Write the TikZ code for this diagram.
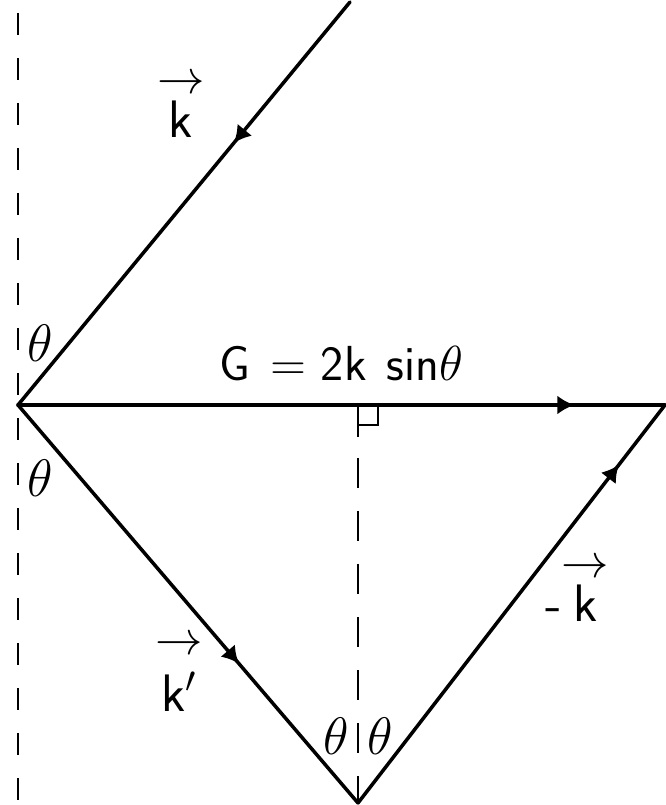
\documentclass[tikz,border=0pt]{standalone}
\usepackage{fix-cm}
\usepackage{amsmath}
\usepackage{tikz}
\usetikzlibrary{arrows.meta, decorations.markings, positioning, calc}

\newcommand{\vecarrow}{{\fontsize{27}{27}\selectfont$\rightarrow$}}
\newcommand{\kvec}[2][1pt]{\shortstack{\vecarrow\\[#1]\textsf{#2}}}

\begin{document}
\begin{tikzpicture}[
  ray/.style={line width=2pt, line cap=round},
  guide/.style={line width=1.6pt, dash pattern=on 0.44cm off 0.46cm},
  drop/.style={line width=1.6pt, dash pattern=on 0.6cm off 0.46cm},
  mid/.style={postaction={decorate}, decoration={markings,
      mark=at position #1 with {\arrow{Latex[length=0.34cm, width=0.38cm]}}}},
  lbl/.style={font=\fontsize{28}{33}\selectfont, inner sep=1pt},
  vlbl/.style={font=\fontsize{30}{36}\selectfont, inner sep=1pt},
  ang/.style={font=\fontsize{30}{36}\selectfont, inner sep=1pt}
]
\useasboundingbox (0,0) rectangle (13.3,16.1);

% points of the construction
\coordinate (orig)  at (0.36,8.0);
\coordinate (top)   at (7.0,16.06);
\coordinate (right) at (13.3,8.0);
\coordinate (apex)  at (7.16,0.04);
\coordinate (foot)  at (7.16,8.0);
\coordinate (gtop)  at (0.36,15.84);
\coordinate (gbot)  at (0.36,0);
\coordinate (dtop)  at (7.16,6.94);

% dashed guides
\draw[guide] (gtop) -- (gbot);
\draw[drop] (dtop) -- (apex);
\draw[line width=1.6pt] (foot) -- ++(0,-0.64);
\draw[line width=1.6pt] ($(foot)+(0,-0.4)$) -- ++(0.4,0) -- ++(0,0.4);

% wave vectors
\draw[ray, mid=0.35] (top) -- (orig);
\draw[ray, mid=0.65] (orig) -- (apex);
\draw[ray, mid=0.85] (apex) -- (right);
\draw[ray, mid=0.86] (orig) -- (right)
  node[lbl, midway, above=0.42cm] (gval)
  {\textsf{G\hspace{0.4em}=\hspace{0.3em}2k\hspace{0.1em} sin}$\theta$};

% labels
\node[vlbl] (kin)  at (3.62,13.96) {\kvec{k}};
\node[vlbl] (kout) at (3.58,2.62)  {\kvec[7pt]{k$'$}};
\node[vlbl] (kneg) at (11.54,4.28) {\textsf{-}\kvec{k}};

\node[ang] (thA) at (0.8,9.24) {$\theta$};
\node[ang] (thB) at (0.8,6.54) {$\theta$};
\node[ang] (thC) at (6.72,1.38) {$\theta$};
\node[ang] (thD) at (7.6,1.38)  {$\theta$};

\end{tikzpicture}
\end{document}
